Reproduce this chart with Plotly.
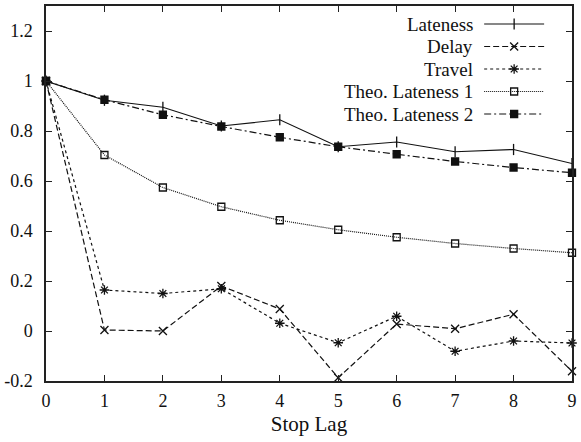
import plotly.graph_objects as go

stop_lag = [0, 1, 2, 3, 4, 5, 6, 7, 8, 9]
lateness = [1.0, 0.923, 0.895, 0.82, 0.845, 0.737, 0.756, 0.717, 0.726, 0.670]
delay = [1.0, 0.004, 0.0, 0.18, 0.088, -0.187, 0.028, 0.009, 0.067, -0.161]
travel = [1.0, 0.164, 0.150, 0.169, 0.031, -0.047, 0.059, -0.081, -0.040, -0.048]
theo1 = [1.0, 0.704, 0.574, 0.497, 0.443, 0.405, 0.375, 0.350, 0.330, 0.313]
theo2 = [1.0, 0.925, 0.865, 0.818, 0.775, 0.737, 0.707, 0.678, 0.654, 0.633]

names = ["Lateness", "Delay", "Travel", "Theo. Lateness 1", "Theo. Lateness 2"]
series = [lateness, delay, travel, theo1, theo2]
dashes = ["solid", "6px,3px", "3px,3px", "1px,1px", "7px,3px,2px,3px"]
symbols = ["line-ns", "x-thin", "asterisk", "square-open", "square"]
sizes = [8, 8, 8, 7, 7]

FONT = "Times New Roman, Liberation Serif, DejaVu Serif, serif"
BLACK = "#111111"

fig = go.Figure()
for name, ys, dash, sym, sz in zip(names, series, dashes, symbols, sizes):
    fig.add_trace(go.Scatter(
        x=stop_lag, y=ys, name=name, mode="lines+markers",
        line=dict(color=BLACK, width=1.2, dash=dash),
        marker=dict(symbol=sym, size=sz, color=BLACK,
                    line=dict(color=BLACK, width=1.3)),
        showlegend=False, cliponaxis=False,
    ))

# custom gnuplot-style key: label on the left, sample on the right
key_rows = [0.952, 0.892, 0.832, 0.772, 0.712]
for name, dash, sym, sz, ky in zip(names, dashes, symbols, sizes, key_rows):
    fig.add_trace(go.Scatter(
        x=[0.833, 0.947], y=[ky, ky], mode="lines",
        line=dict(color=BLACK, width=1.2, dash=dash),
        xaxis="x2", yaxis="y2", showlegend=False, hoverinfo="skip",
    ))
    fig.add_trace(go.Scatter(
        x=[0.890], y=[ky], mode="markers",
        marker=dict(symbol=sym, size=sz, color=BLACK,
                    line=dict(color=BLACK, width=1.3)),
        xaxis="x2", yaxis="y2", showlegend=False, hoverinfo="skip",
    ))
    fig.add_annotation(
        x=0.816, y=ky, xref="x2", yref="y2", text=name, showarrow=False,
        xanchor="right", yanchor="middle",
        font=dict(family=FONT, size=19, color=BLACK),
    )

axis_common = dict(
    showgrid=False, zeroline=False, showline=True, linecolor="#222222",
    linewidth=1.5, mirror="ticks", ticks="inside", ticklen=6,
    tickwidth=1.2, tickcolor="#222222",
    tickfont=dict(family=FONT, size=18, color=BLACK),
)

fig.update_layout(
    width=581, height=442,
    margin=dict(l=44, r=5, t=4, b=61),
    paper_bgcolor="white", plot_bgcolor="white",
    font=dict(family=FONT, color=BLACK),
    xaxis=dict(range=[0, 9], tickvals=stop_lag, ticktext=[str(v) for v in stop_lag],
               title=dict(text="Stop Lag", font=dict(family=FONT, size=21, color=BLACK),
                          standoff=6),
               ticklabelstandoff=3, **axis_common),
    yaxis=dict(range=[-0.2, 1.3], tickvals=[-0.2, 0, 0.2, 0.4, 0.6, 0.8, 1.0, 1.2],
               ticktext=["-0.2", "0", "0.2", "0.4", "0.6", "0.8", "1", "1.2"],
               ticklabelstandoff=8, **axis_common),
    xaxis2=dict(range=[0, 1], domain=[0, 1], anchor="y2", overlaying="x",
                visible=False, fixedrange=True),
    yaxis2=dict(range=[0, 1], domain=[0, 1], anchor="x2", overlaying="y",
                visible=False, fixedrange=True),
)

fig.write_html("out.html")
